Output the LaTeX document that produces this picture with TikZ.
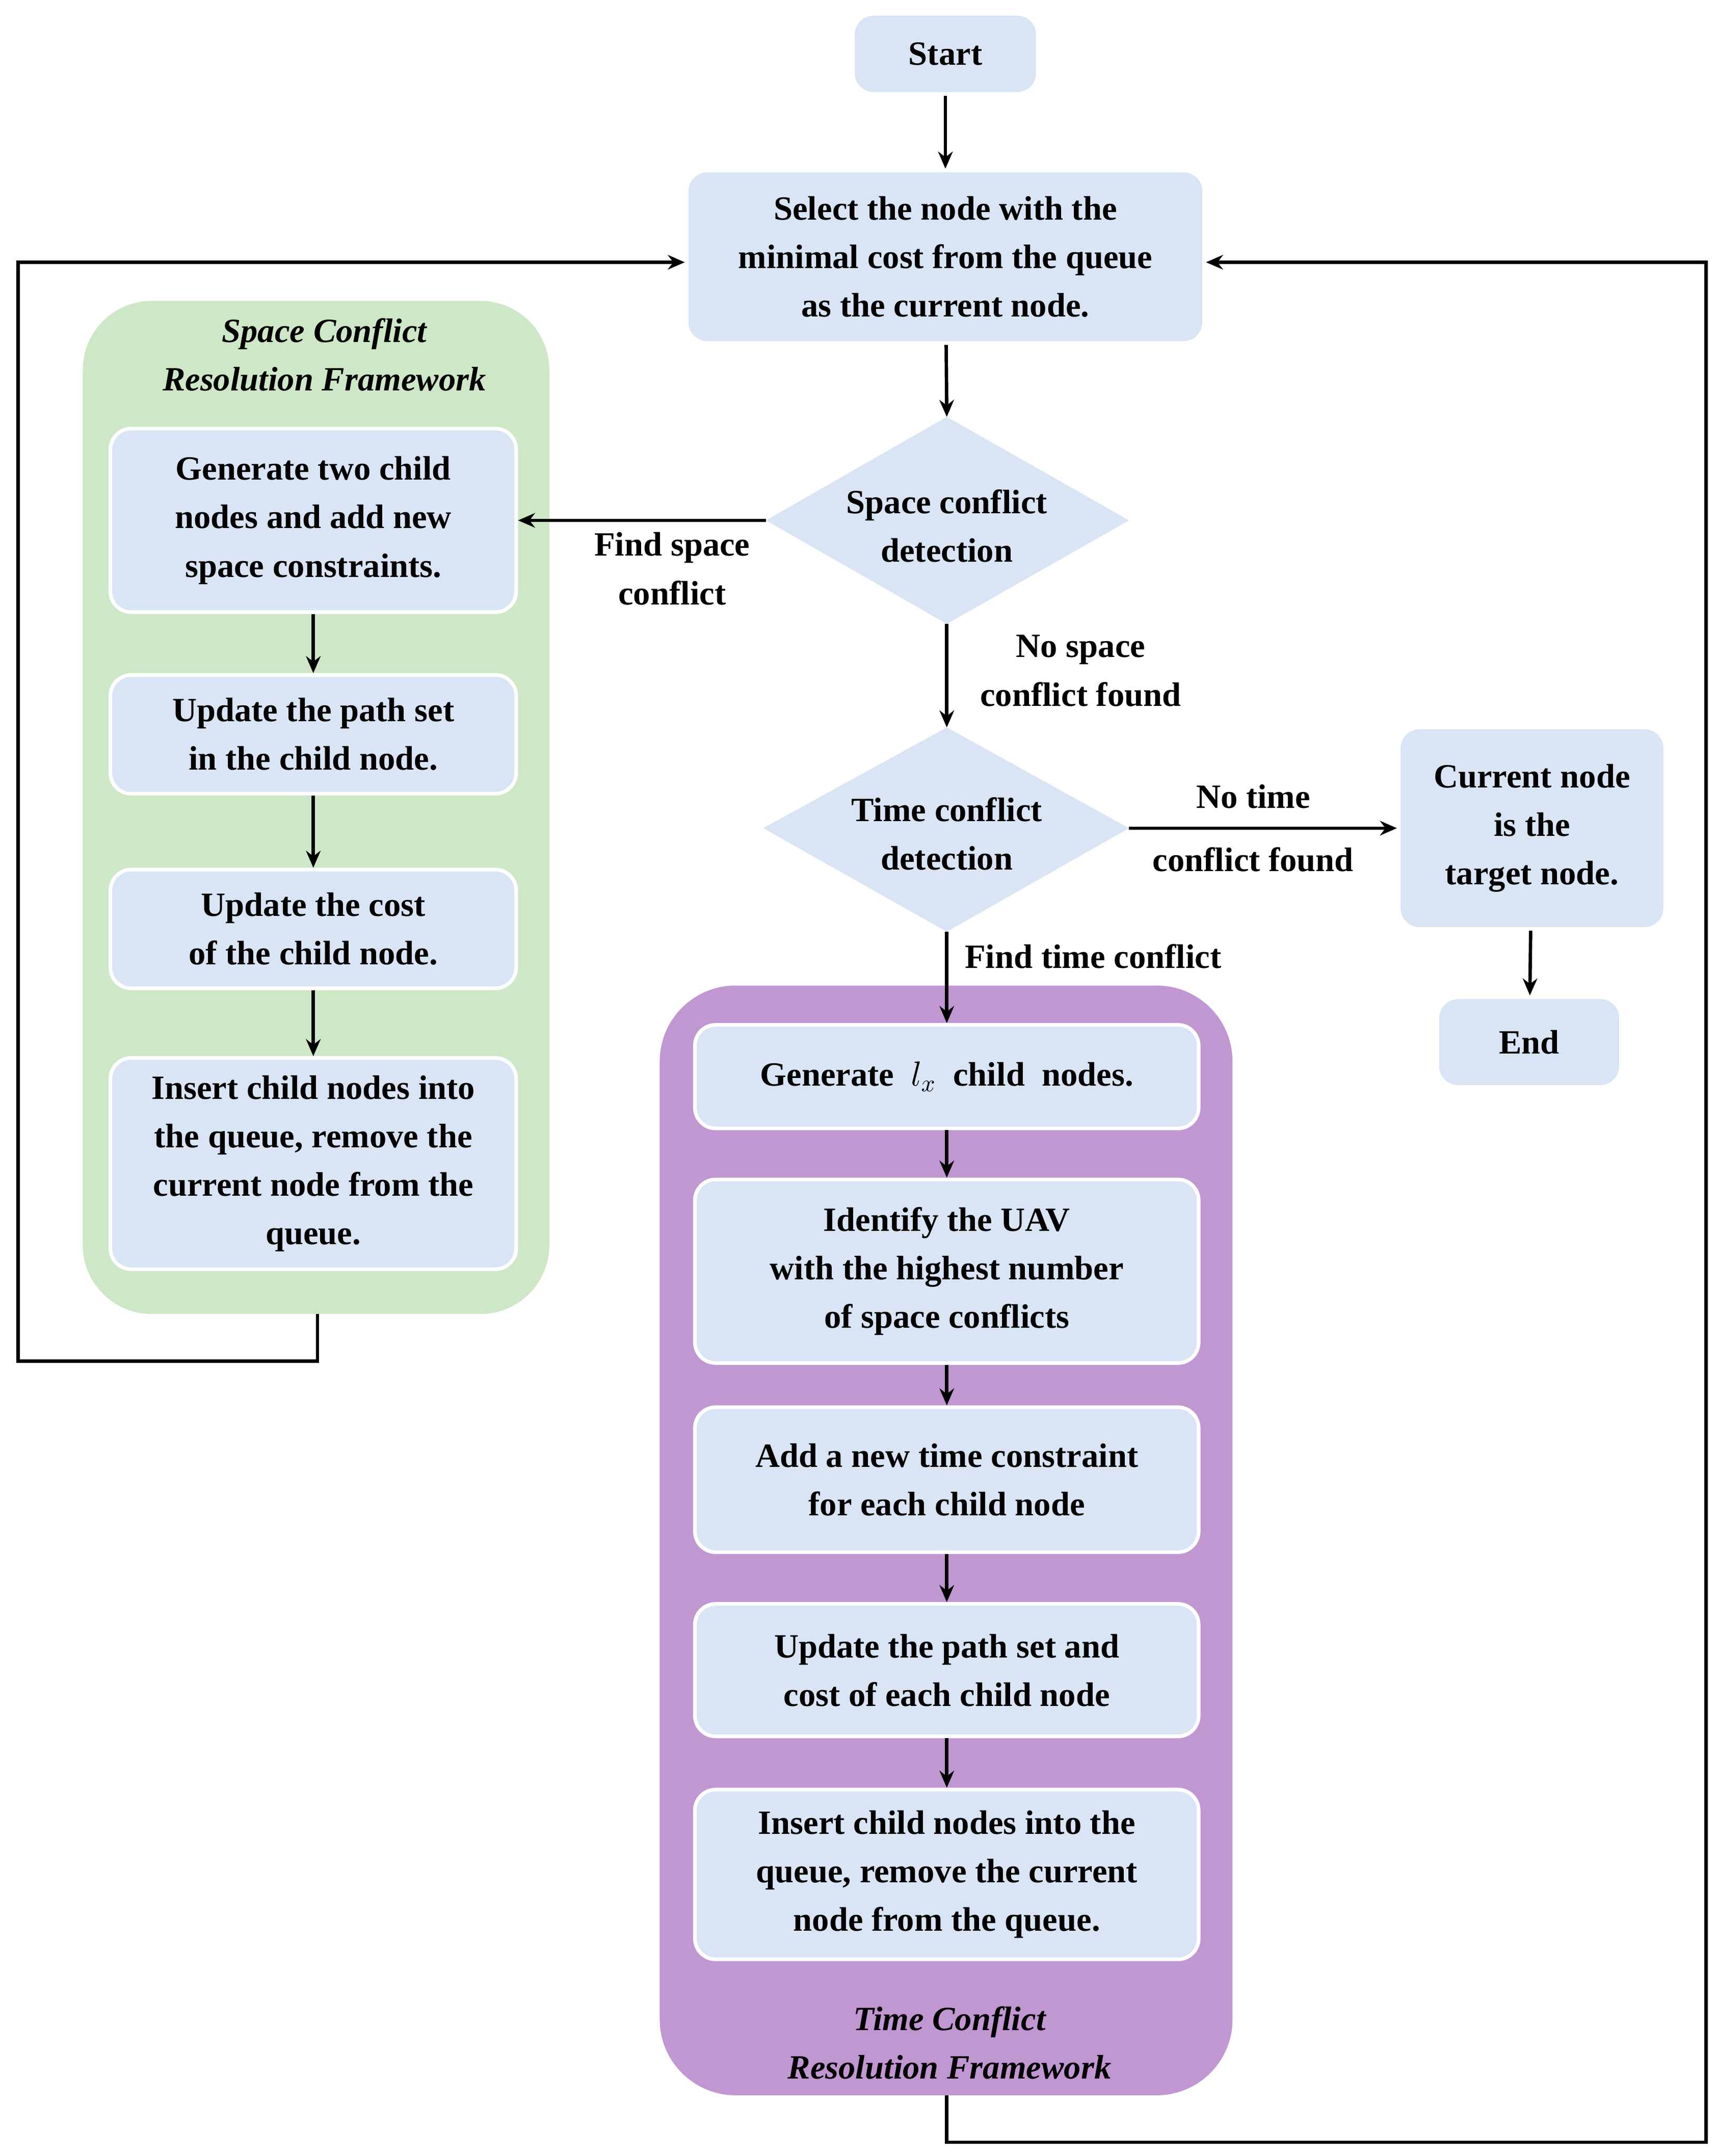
\documentclass[tikz,border=0pt]{standalone}
\usepackage{fontspec}
\setmainfont{Liberation Serif}
\usetikzlibrary{arrows.meta}
\definecolor{boxc}{HTML}{D9E4F4}
\definecolor{greenc}{HTML}{CEE7C6}
\definecolor{purc}{HTML}{C197D2}
\begin{document}
\begin{tikzpicture}[x=0.02cm,y=-0.02cm,
  box/.style={draw=white,line width=1.5pt,fill=boxc,rounded corners=0.3cm,align=center,inner sep=0pt,font=\bfseries\fontsize{14}{20}\selectfont},
  lbl/.style={align=center,inner sep=1pt,font=\bfseries\fontsize{14}{20}\selectfont},
  ttl/.style={align=center,inner sep=1pt,font=\bfseries\itshape\fontsize{14}{20}\selectfont},
  arr/.style={-{Stealth[length=7pt,width=6pt]},line width=1.4pt},
  ln/.style={line width=1.4pt}]
\useasboundingbox (0,0) rectangle (1244,1562);
% panels
\fill[greenc,rounded corners=1cm] (60,218) rectangle (398,952);
\fill[purc,rounded corners=1.1cm] (478,714) rectangle (893,1518);
\node[ttl] (gt) at (235,257) {Space Conflict\\Resolution Framework};
\node[ttl] (pt) at (688,1480) {Time Conflict\\Resolution Framework};
% main nodes
\node[box,minimum width=134*0.02cm,minimum height=58*0.02cm] (start) at (685,39) {Start};
\node[box,minimum width=375*0.02cm,minimum height=125*0.02cm] (sel) at (685,186) {Select the node with the\\minimal cost from the queue\\as the current node.};
\fill[boxc] (555,377) -- (686,302) -- (818,377) -- (686,452) -- cycle;
\node[lbl] (sd) at (686,381) {Space conflict\\detection};
\coordinate (sdT) at (686,302); \coordinate (sdL) at (555,377); \coordinate (sdB) at (686,452);
\fill[boxc] (553,600) -- (686,527) -- (818,600) -- (686,675) -- cycle;
\node[lbl] (td) at (686,604) {Time conflict\\detection};
\coordinate (tdT) at (686,527); \coordinate (tdR) at (818,600); \coordinate (tdB) at (686,675);
\node[box,minimum width=193*0.02cm,minimum height=146*0.02cm] (cur) at (1110,600) {Current node\\is the\\target node.};
\node[box,minimum width=133*0.02cm,minimum height=65*0.02cm] (end) at (1108,755) {End};
% green boxes
\begin{scope}[every node/.append style={minimum width=294*0.02cm}]
\node[box,minimum height=133*0.02cm] (g1) at (227,377) {Generate two child\\nodes and add new\\space constraints.};
\node[box,minimum height=86*0.02cm] (g2) at (227,532) {Update the path set\\in the child node.};
\node[box,minimum height=86*0.02cm] (g3) at (227,673) {Update the cost\\of the child node.};
\node[box,minimum height=153*0.02cm] (g4) at (227,843) {Insert child nodes into\\the queue, remove the\\current node from the\\queue.};
\end{scope}
\begin{scope}[every node/.append style={minimum width=365*0.02cm}]
\node[box,minimum height=75*0.02cm] (p1) at (686,780) {Generate \ $l_x$\ \ child\ \ nodes.};
\node[box,minimum height=133*0.02cm] (p2) at (686,921) {Identify the UAV\\with the highest number\\of space conflicts};
\node[box,minimum height=105*0.02cm] (p3) at (686,1072) {Add a new time constraint\\for each child node};
\node[box,minimum height=96*0.02cm] (p4) at (686,1210) {Update the path set and\\cost of each child node};
\node[box,minimum height=123*0.02cm] (p5) at (686,1358) {Insert child nodes into the\\queue, remove the current\\node from the queue.};
\end{scope}
% connectors
\draw[arr] (start) -- (sel);
\draw[arr] (sel) -- (sdT);
\draw[arr] (sdL) -- (g1.east);
\node[lbl] (l1) at (487,412) {Find space\\conflict};
\draw[arr] (sdB) -- (tdT);
\node[lbl] (l2) at (783,486) {No space\\conflict found};
\draw[arr] (tdR) -- (cur.west);
\node[lbl] (l3) at (908,600) {No time\\[6pt]conflict found};
\draw[arr] (tdB) -- (p1.north);
\node[lbl,anchor=west] (l4) at (697,693) {Find time conflict};
\draw[arr] (cur) -- (end);
\draw[arr] (g1) -- (g2); \draw[arr] (g2) -- (g3); \draw[arr] (g3) -- (g4);
\draw[arr] (p1) -- (p2); \draw[arr] (p2) -- (p3); \draw[arr] (p3) -- (p4); \draw[arr] (p4) -- (p5);
\coordinate (gb) at (230,952); \coordinate (pb) at (686,1518);
\draw[arr] (gb) -- (230,986) -- (13,986) -- (13,190) -- (sel.west |- 0,190);
\draw[arr] (pb) -- (686,1552) -- (1236,1552) -- (1236,190) -- (sel.east |- 0,190);
\end{tikzpicture}
\end{document}
